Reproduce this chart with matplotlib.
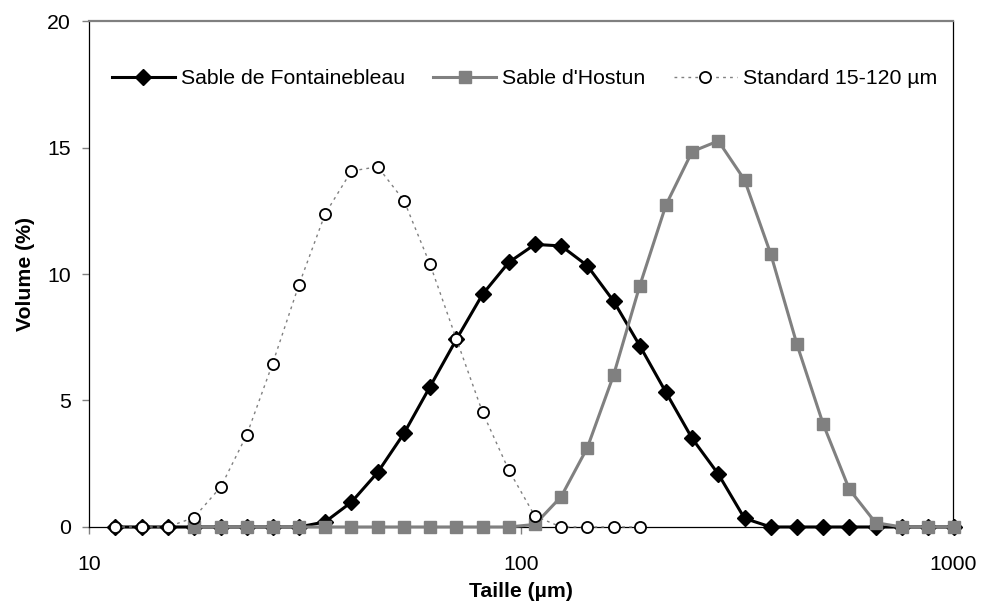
import matplotlib
matplotlib.use("Agg")
import matplotlib.pyplot as plt
from matplotlib.ticker import FixedLocator, FixedFormatter, NullLocator

plt.rcParams['font.family'] = ['Liberation Sans', 'DejaVu Sans']

# particle size classes (um)
sizes = [11.5, 13.3, 15.2, 17.5, 20.2, 23.2, 26.6, 30.6, 35.2, 40.5, 46.6,
         53.6, 61.6, 70.9, 81.5, 93.7, 107.7, 123.9, 142.4, 163.8, 188.3,
         216.6, 249.0, 286.3, 329.2, 378.6, 435.3, 500.6, 575.4, 661.8,
         761.0, 875.0, 1006.0]

fontainebleau = [0, 0, 0, 0, 0, 0, 0, 0, 0.2, 0.98, 2.16, 3.7, 5.55, 7.42,
                 9.2, 10.46, 11.17, 11.11, 10.33, 8.93, 7.17, 5.32, 3.5,
                 2.09, 0.34, 0, 0, 0, 0, 0, 0, 0, 0]

hostun_sizes = sizes[3:]
hostun = [0, 0, 0, 0, 0, 0, 0, 0, 0, 0, 0, 0, 0, 0.1, 1.2, 3.13, 6.0, 9.53,
          12.73, 14.84, 15.26, 13.72, 10.79, 7.22, 4.07, 1.49, 0.17, 0, 0, 0]

standard_sizes = sizes[:21]
standard = [0, 0, 0, 0.37, 1.59, 3.65, 6.45, 9.56, 12.37, 14.07, 14.24,
            12.9, 10.38, 7.42, 4.53, 2.25, 0.43, 0, 0, 0, 0]

x_ticks = [10, 100, 1000]
x_labels = ['10', '100', '1000']
y_ticks = [0, 5, 10, 15, 20]

FS = 15.3


def main():
    fig = plt.figure(figsize=(9.93, 6.06), dpi=100)
    ax = fig.add_axes([0.0896, 0.1304, 0.8701, 0.8349])

    ax.plot(sizes, fontainebleau, '-D', color='black',
            lw=2.2, ms=8.4, label='Sable de Fontainebleau', zorder=3,
            clip_on=False)
    ax.plot(hostun_sizes, hostun, '-s', color='#808080', lw=2.2, ms=8.0,
            label="Sable d'Hostun", zorder=4, clip_on=False)
    ax.plot(standard_sizes, standard, linestyle=(0, (2, 3)), color='#808080',
            lw=1.0, marker='o', ms=8.0, mfc='white', mec='black', mew=1.3,
            label='Standard 15-120 µm', zorder=5, clip_on=False)

    ax.set_xscale('log')
    ax.set_xlim(10, 1000)
    ax.set_ylim(0, 20)
    ax.xaxis.set_major_locator(FixedLocator(x_ticks))
    ax.xaxis.set_major_formatter(FixedFormatter(x_labels))
    ax.xaxis.set_minor_locator(NullLocator())
    ax.set_yticks(y_ticks)

    for side in ['left', 'bottom', 'right']:
        ax.spines[side].set_color('black')
        ax.spines[side].set_linewidth(0.9)
    ax.spines['top'].set_color('#808080')
    ax.spines['top'].set_linewidth(1.6)

    ax.tick_params(axis='both', direction='out', length=5, width=1,
                   color='#808080', labelsize=FS)
    ax.tick_params(axis='x', pad=15)
    ax.tick_params(axis='y', pad=8)

    ax.set_xlabel('Taille (µm)', fontsize=FS, fontweight='bold', labelpad=6)
    ax.set_ylabel('Volume (%)', fontsize=FS, fontweight='bold', labelpad=9)

    ax.legend(loc='upper center', bbox_to_anchor=(0.504, 0.942), ncol=3,
              frameon=False, fontsize=FS, handlelength=2.95,
              columnspacing=1.35, handletextpad=0.28)

    fig.savefig('out.png', dpi=100)


if __name__ == "__main__":
    main()
